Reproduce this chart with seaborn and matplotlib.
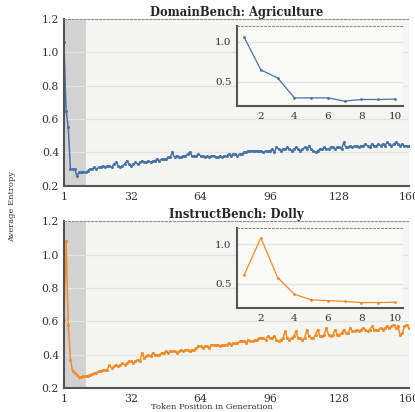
import numpy as np
import pandas as pd
import matplotlib
matplotlib.use("Agg")
import matplotlib.pyplot as plt
import seaborn as sns

# Average entropy per token position (positions 1..160)
positions = list(range(1, 161))

agriculture = [
    1.06, 0.65, 0.55, 0.30, 0.30, 0.30, 0.26, 0.28, 0.28, 0.285,
    0.28, 0.29, 0.30, 0.30, 0.31, 0.30, 0.31, 0.31, 0.32, 0.31,
    0.32, 0.32, 0.31, 0.33, 0.34, 0.32, 0.31, 0.32, 0.33, 0.35,
    0.33, 0.32, 0.33, 0.34, 0.33, 0.34, 0.35, 0.34, 0.34, 0.35,
    0.34, 0.35, 0.35, 0.36, 0.35, 0.36, 0.36, 0.36, 0.37, 0.37,
    0.40, 0.37, 0.38, 0.37, 0.37, 0.38, 0.38, 0.39, 0.40, 0.38,
    0.38, 0.38, 0.39, 0.38, 0.38, 0.37, 0.38, 0.37, 0.38, 0.38,
    0.37, 0.37, 0.38, 0.37, 0.38, 0.38, 0.39, 0.38, 0.39, 0.39,
    0.38, 0.39, 0.39, 0.40, 0.40, 0.41, 0.41, 0.41, 0.41, 0.41,
    0.41, 0.41, 0.40, 0.41, 0.41, 0.41, 0.42, 0.40, 0.43, 0.42,
    0.41, 0.42, 0.42, 0.43, 0.42, 0.41, 0.42, 0.43, 0.42, 0.41,
    0.42, 0.43, 0.42, 0.44, 0.42, 0.41, 0.40, 0.41, 0.42, 0.42,
    0.43, 0.42, 0.42, 0.43, 0.43, 0.42, 0.43, 0.43, 0.42, 0.46,
    0.43, 0.43, 0.44, 0.43, 0.44, 0.44, 0.43, 0.44, 0.44, 0.45,
    0.44, 0.43, 0.45, 0.44, 0.44, 0.45, 0.44, 0.45, 0.44, 0.46,
    0.45, 0.44, 0.45, 0.46, 0.45, 0.44, 0.45, 0.44, 0.44, 0.44,
]

dolly = [
    0.61, 1.08, 0.58, 0.37, 0.30, 0.29, 0.28, 0.265, 0.265, 0.27,
    0.27, 0.275, 0.28, 0.285, 0.29, 0.29, 0.30, 0.30, 0.31, 0.31,
    0.31, 0.34, 0.32, 0.33, 0.34, 0.33, 0.34, 0.35, 0.34, 0.35,
    0.36, 0.36, 0.35, 0.36, 0.37, 0.36, 0.41, 0.38, 0.39, 0.40,
    0.39, 0.41, 0.40, 0.40, 0.40, 0.41, 0.41, 0.42, 0.41, 0.42,
    0.42, 0.42, 0.41, 0.42, 0.43, 0.42, 0.43, 0.43, 0.42, 0.43,
    0.43, 0.44, 0.45, 0.45, 0.44, 0.45, 0.45, 0.44, 0.46, 0.46,
    0.46, 0.46, 0.45, 0.46, 0.46, 0.46, 0.47, 0.46, 0.47, 0.47,
    0.47, 0.48, 0.48, 0.48, 0.47, 0.49, 0.48, 0.48, 0.49, 0.49,
    0.50, 0.50, 0.50, 0.49, 0.51, 0.50, 0.50, 0.51, 0.49, 0.48,
    0.49, 0.50, 0.54, 0.50, 0.49, 0.50, 0.51, 0.54, 0.50, 0.50,
    0.49, 0.50, 0.55, 0.51, 0.50, 0.50, 0.52, 0.55, 0.51, 0.51,
    0.52, 0.56, 0.52, 0.51, 0.52, 0.55, 0.52, 0.52, 0.53, 0.55,
    0.53, 0.53, 0.56, 0.54, 0.54, 0.55, 0.54, 0.55, 0.56, 0.55,
    0.54, 0.55, 0.57, 0.55, 0.55, 0.55, 0.56, 0.55, 0.56, 0.57,
    0.56, 0.57, 0.58, 0.56, 0.57, 0.52, 0.53, 0.57, 0.58, 0.56,
]

titles = ["DomainBench: Agriculture", "InstructBench: Dolly"]
colors = ["#4a74a6", "#f28c28"]
x_ticks = [1, 32, 64, 96, 128, 160]
y_ticks = [0.2, 0.4, 0.6, 0.8, 1.0, 1.2]
inset_x_ticks = [2, 4, 6, 8, 10]
inset_y_ticks = [0.5, 1.0]

sns.set_style("white")
plt.rcParams["font.family"] = ["DejaVu Serif"]


def style_axes(ax, face):
    """Fundo cinza claro, grade horizontal e linha tracejada no topo"""
    ax.set_facecolor(face)
    ax.grid(axis="y", color="#e2e2e2", linewidth=0.9)
    ax.grid(axis="x", visible=False)
    ax.set_axisbelow(True)
    for side in ["left", "bottom"]:
        ax.spines[side].set_color("#555555")
        ax.spines[side].set_linewidth(1.5)
    ax.spines["right"].set_visible(False)
    ax.spines["top"].set_linestyle((0, (2, 2)))
    ax.spines["top"].set_color("#888888")
    ax.spines["top"].set_linewidth(0.7)
    ax.tick_params(colors="#333333", width=0.8, pad=1.5)
    ax.tick_params(axis="x", length=3)
    ax.tick_params(axis="y", length=2)


def panel(rect, inset_rect, values, color, title):
    ax = fig.add_axes(rect)
    style_axes(ax, "#f5f5f3")
    ax.axvspan(1, 11, color="#d2d2d2", zorder=0.5, linewidth=0)
    df = pd.DataFrame({"pos": positions, "entropy": values})
    sns.lineplot(data=df, x="pos", y="entropy", ax=ax, color=color,
                 linewidth=1.1, marker="o", markersize=2.2,
                 markeredgewidth=0)
    ax.set_xlim(1, 160)
    ax.set_ylim(0.2, 1.2)
    ax.set_xticks(x_ticks)
    ax.set_yticks(y_ticks)
    ax.set_yticklabels([f"{t:.1f}" for t in y_ticks])
    ax.tick_params(labelsize=7.8)
    ax.set_xlabel("")
    ax.set_ylabel("")
    ax.set_title(title, fontweight="bold", fontsize=8.3, pad=2)

    # Zoom nos 10 primeiros tokens
    axin = fig.add_axes(inset_rect)
    style_axes(axin, "#fafaf9")
    sns.lineplot(data=df.iloc[:10], x="pos", y="entropy", ax=axin,
                 color=color, linewidth=0.9, marker="o", markersize=2,
                 markeredgewidth=0)
    axin.set_xlim(0.55, 10.45)
    axin.set_ylim(0.2, 1.2)
    axin.set_xticks(inset_x_ticks)
    axin.set_yticks(inset_y_ticks)
    axin.tick_params(labelsize=7.5)
    axin.set_xlabel("")
    axin.set_ylabel("")


fig = plt.figure(figsize=(4.15, 4.12), dpi=100)

panel([0.154, 0.549, 0.831, 0.405], [0.570, 0.743, 0.400, 0.194],
      agriculture, colors[0], titles[0])
panel([0.154, 0.058, 0.831, 0.405], [0.570, 0.253, 0.400, 0.193],
      dolly, colors[1], titles[1])

fig.text(0.03, 0.5, "Average Entropy", rotation=90, va="center",
         ha="center", fontsize=6, color="#333333")
fig.text(0.51, 0.002, "Token Position in Generation", ha="center",
         va="bottom", fontsize=6, color="#333333")

fig.savefig("out.png", dpi=100)
